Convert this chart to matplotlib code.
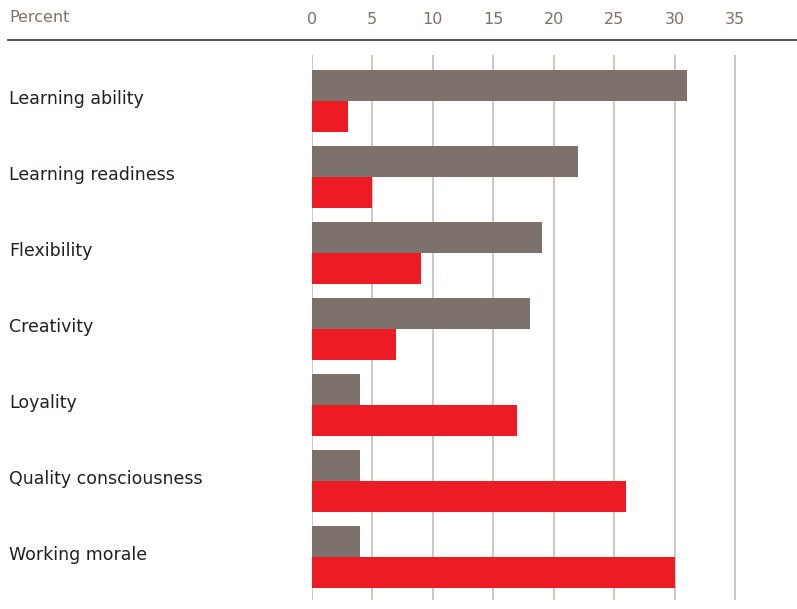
import matplotlib.pyplot as plt
import matplotlib.transforms as mtransforms
from matplotlib.lines import Line2D

# data
categories = ['Learning ability', 'Learning readiness', 'Flexibility', 'Creativity',
              'Loyality', 'Quality consciousness', 'Working morale']
gray_vals = [31, 22, 19, 18, 4, 4, 4]
red_vals = [3, 5, 9, 7, 17, 26, 30]
ticks = [0, 5, 10, 15, 20, 25, 30, 35]

W, H = 797, 609
fig = plt.figure(figsize=(W / 100, H / 100), dpi=100)

# axes: x=0 at 311.7px, 1 unit = 12.1px, right edge at 797px; top 55px, bottom 600px
left = 311.7 / W
ax = fig.add_axes([left, 1 - 600 / H, 1 - left, (600 - 55) / H])

h = 0.408
y = list(range(len(categories)))
ax.barh([v - h / 2 for v in y], gray_vals, height=h, color='#7c716b', zorder=3)
ax.barh([v + h / 2 for v in y], red_vals, height=h, color='#ed1c24', zorder=3)

ax.set_xlim(0, (W - 311.7) / 12.1)
ax.set_ylim(6.566, -0.605)

ax.set_xticks(ticks)
ax.xaxis.tick_top()
ax.tick_params(axis='x', length=0, pad=20.5, labelsize=11.5, labelcolor='#7c716b')
ax.grid(axis='x', color='#cbc3bf', linewidth=1.3, zorder=0)
ax.set_yticks([])
for s in ax.spines.values():
    s.set_visible(False)

# category labels on the left (figure x, data y)
trans = mtransforms.blended_transform_factory(fig.transFigure, ax.transData)
for i, c in enumerate(categories):
    ax.text(9 / W, i - 0.03, c, transform=trans, fontsize=12.5,
            color='#231f20', va='center', ha='left')

fig.text(9 / W, 1 - 18 / H, 'Percent', fontsize=11.5, color='#7c716b', va='center', ha='left')
fig.add_artist(Line2D([8 / W, 1], [1 - 40 / H, 1 - 40 / H], color='#3a3433', linewidth=1.2))

fig.savefig('out.png', dpi=100)
